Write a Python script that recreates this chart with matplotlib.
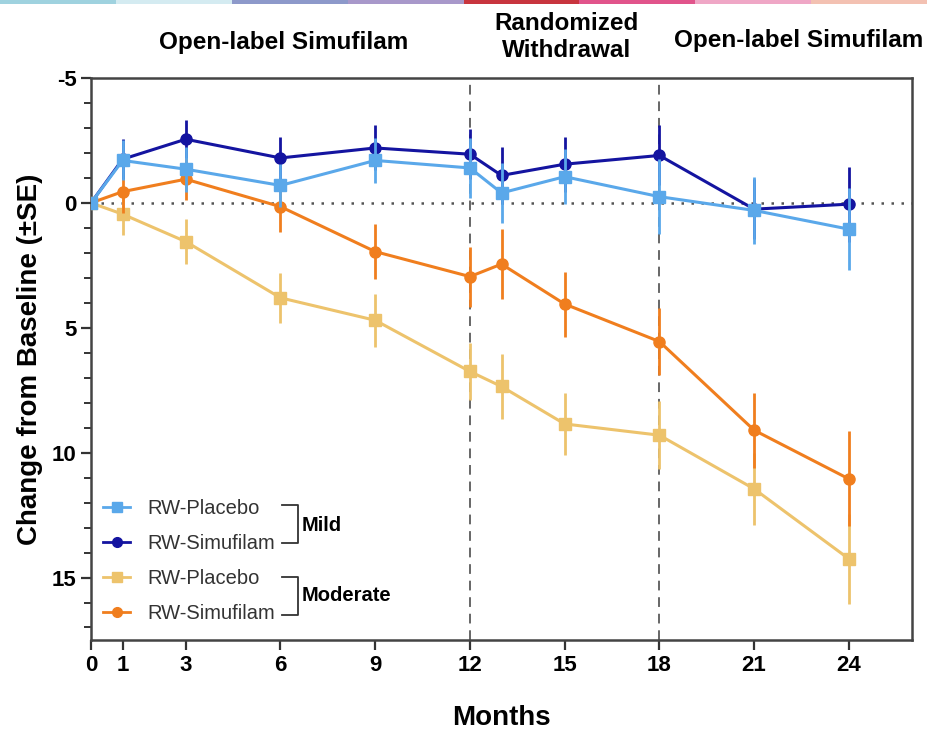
import numpy as np
import matplotlib
matplotlib.use('Agg')
import matplotlib.pyplot as plt
from matplotlib.lines import Line2D
from matplotlib.patches import Rectangle
import matplotlib.transforms as mtransforms

plt.rcParams['font.family'] = ['Liberation Sans', 'DejaVu Sans']
plt.rcParams['axes.unicode_minus'] = False

# данные
months = [0, 1, 3, 6, 9, 12, 13, 15, 18, 21, 24]
tick_months = [0, 1, 3, 6, 9, 12, 15, 18, 21, 24]

mild_placebo = [0, -1.7, -1.35, -0.7, -1.7, -1.4, -0.4, -1.05, -0.25, 0.3, 1.05]
mild_placebo_se = [0, 0.8, 0.9, 0.85, 0.9, 1.2, 1.2, 1.1, 1.5, 1.35, 1.65]
mild_simu = [0, -1.75, -2.55, -1.8, -2.2, -1.95, -1.1, -1.55, -1.9, 0.25, 0.05]
mild_simu_se = [0, 0.8, 0.75, 0.85, 0.9, 1.0, 1.15, 1.1, 1.2, 1.2, 1.5]
mod_placebo = [0, 0.45, 1.55, 3.8, 4.7, 6.75, 7.35, 8.85, 9.3, 11.45, 14.25]
mod_placebo_se = [0, 0.85, 0.9, 1.0, 1.05, 1.15, 1.3, 1.25, 1.35, 1.45, 1.8]
mod_simu = [0, -0.45, -0.95, 0.15, 1.95, 2.95, 2.45, 4.05, 5.55, 9.1, 11.05]
mod_simu_se = [0, 0.85, 0.85, 1.0, 1.1, 1.2, 1.4, 1.3, 1.35, 1.5, 1.9]

c_light = '#5aa8ea'
c_navy = '#1414a0'
c_gold = '#edc36c'
c_orange = '#f07e1e'

# цветная полоска сверху (оформление слайда)
strip_colors = ['#9fd2df', '#d4ebf1', '#8d99ca', '#a898ca', '#c8353e', '#e1548b', '#efa7c6', '#f3c1b2']

fig = plt.figure(figsize=(9.27, 7.32), dpi=100)
ax = fig.add_axes([0.0982, 0.1257, 0.8856, 0.7677])

for i, col in enumerate(strip_colors):
    fig.add_artist(Rectangle((i / len(strip_colors), 0.995), 1 / len(strip_colors), 0.005,
                             transform=fig.transFigure, color=col, lw=0))

ax.axhline(0, color='#555555', lw=1.8, ls=(0, (1, 3)), zorder=1)
for xv in [12, 18]:
    ax.axvline(xv, color='#666666', lw=1.4, ls=(0, (5, 3.5)), zorder=1)

series = [
    (mod_placebo, mod_placebo_se, c_gold, 's'),
    (mod_simu, mod_simu_se, c_orange, 'o'),
    (mild_simu, mild_simu_se, c_navy, 'o'),
    (mild_placebo, mild_placebo_se, c_light, 's'),
]
for k, (vals, se, col, mk) in enumerate(series):
    ax.errorbar(months, vals, yerr=se, color=col, marker=mk, ms=8, lw=2.2,
                elinewidth=2, capsize=0, zorder=3 + k)

ax.set_xlim(0, 26)
ax.set_ylim(17.5, -5)
ax.set_xticks(tick_months)
ax.set_yticks([-5, 0, 5, 10, 15])
ax.set_yticks(np.arange(-4, 18, 1), minor=True)
ax.tick_params(axis='both', labelsize=16, width=1.6, length=7, colors='#333333', labelcolor='black')
ax.tick_params(axis='y', which='minor', length=5, width=1.4, colors='#333333')
for lbl in ax.get_xticklabels() + ax.get_yticklabels():
    lbl.set_fontweight('bold')
for sp in ax.spines.values():
    sp.set_linewidth(1.8)
    sp.set_color('#444444')

ax.text(0.5, -0.139, 'Months', transform=ax.transAxes, ha='center', va='center',
        fontsize=20, fontweight='bold')
ax.set_ylabel('Change from Baseline (±SE)', fontsize=20, fontweight='bold', labelpad=6)

# подписи фаз исследования
trans = mtransforms.blended_transform_factory(ax.transData, ax.transAxes)
ax.text(6.1, 1.063, 'Open-label Simufilam', transform=trans, ha='center', va='center',
        fontsize=17.5, fontweight='bold')
ax.text(15.05, 1.073, 'Randomized\nWithdrawal', transform=trans, ha='center', va='center',
        fontsize=17.5, fontweight='bold', linespacing=1.2)
ax.text(22.4, 1.066, 'Open-label Simufilam', transform=trans, ha='center', va='center',
        fontsize=17.5, fontweight='bold')

# легенда
handles = [
    Line2D([], [], color=c_light, marker='s', ms=7, lw=2),
    Line2D([], [], color=c_navy, marker='o', ms=7, lw=2),
    Line2D([], [], color=c_gold, marker='s', ms=7, lw=2),
    Line2D([], [], color=c_orange, marker='o', ms=7, lw=2),
]
labels = ['RW-Placebo', 'RW-Simufilam', 'RW-Placebo', 'RW-Simufilam']
leg = ax.legend(handles, labels, loc='center left', bbox_to_anchor=(0.0146, 0.1406),
                frameon=False, fontsize=14.5, handlelength=1.35, handletextpad=0.85,
                labelspacing=0.8, borderpad=0, borderaxespad=0)
for t in leg.get_texts():
    t.set_color('#333333')

for top, bot, mid, txt in [(0.2402, 0.1726, 0.2046, 'Mild'), (0.1121, 0.0445, 0.0783, 'Moderate')]:
    ax.plot([0.2326, 0.2521, 0.2521, 0.2326], [top, top, bot, bot], transform=ax.transAxes,
            color='#333333', lw=1.3, clip_on=False)
    ax.text(0.257, mid, txt, transform=ax.transAxes, ha='left', va='center',
            fontsize=14.5, fontweight='bold')

fig.savefig('out.png', dpi=100)
